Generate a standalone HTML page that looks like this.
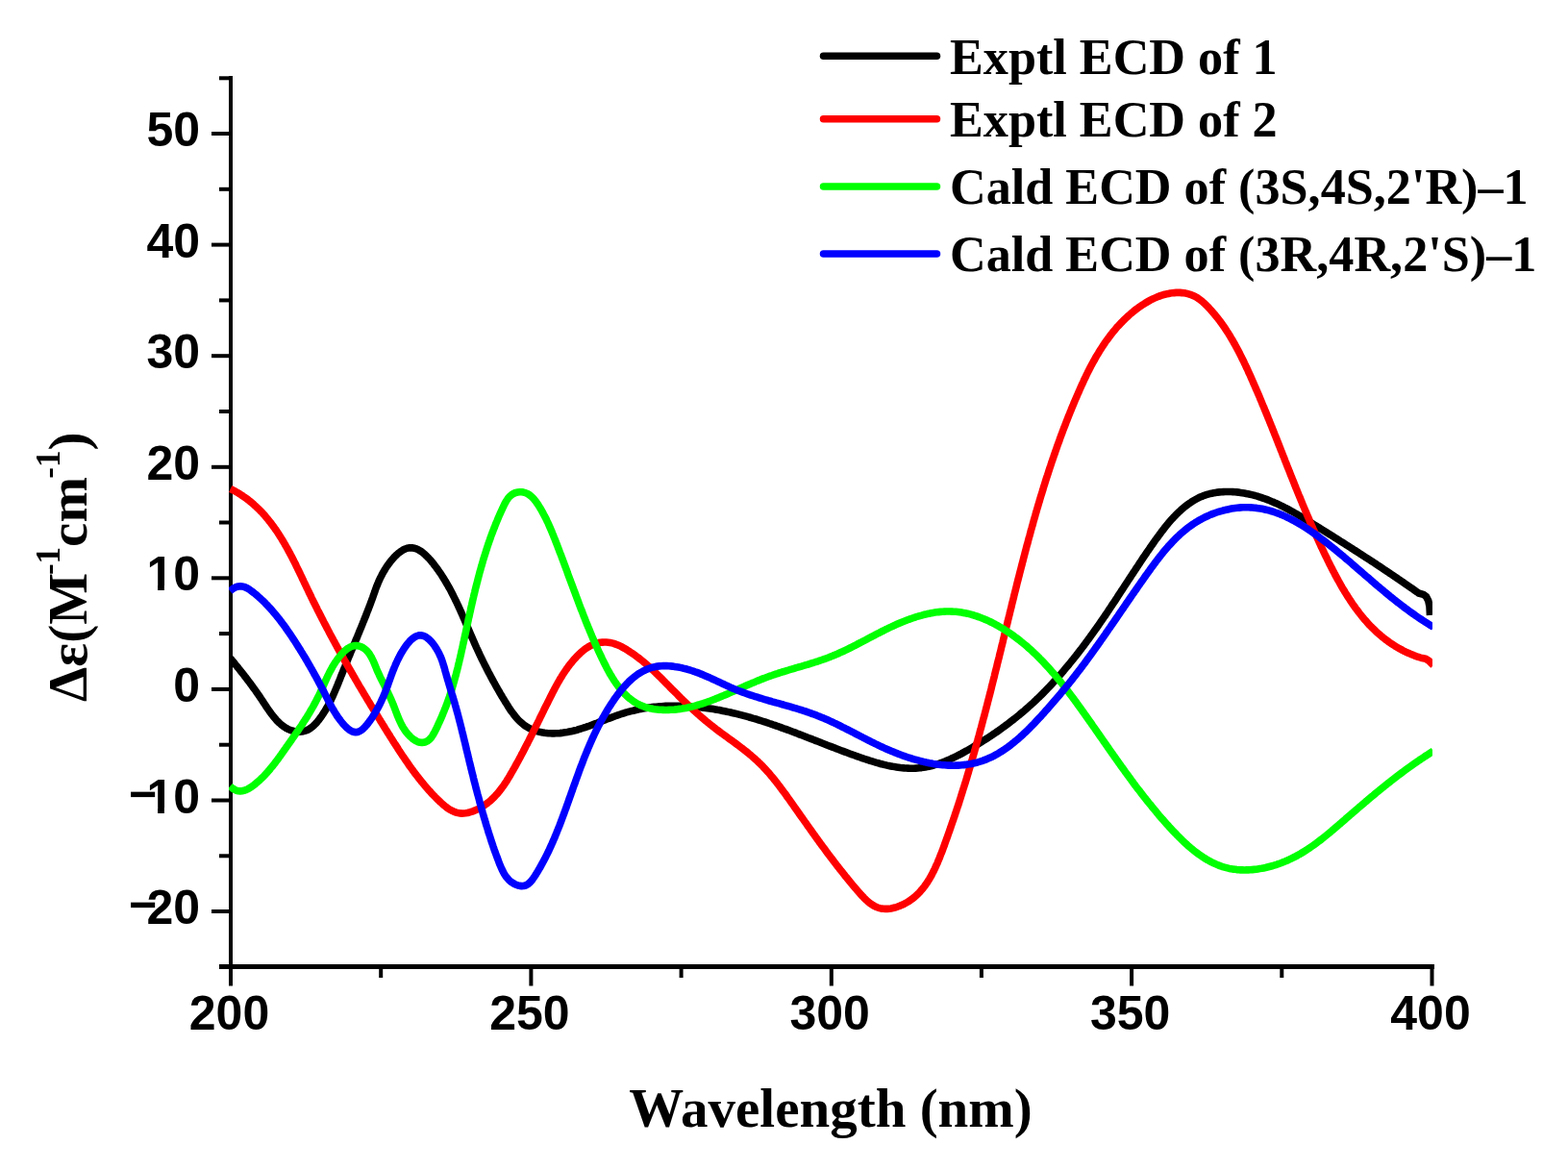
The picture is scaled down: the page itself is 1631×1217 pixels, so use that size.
<!DOCTYPE html>
<html><head><meta charset="utf-8"><title>ECD spectra</title>
<style>html,body{margin:0;padding:0;background:#fff;overflow:hidden}svg{display:block}</style>
</head><body>
<svg xmlns="http://www.w3.org/2000/svg" width="1631" height="1217" viewBox="0 0 1631 1217">
<defs><clipPath id="pc"><rect x="238" y="60" width="1252" height="950"/></clipPath></defs>
<defs><clipPath id="c0"><rect x="0" y="0" width="1631" height="840.07"/><rect x="164.05" y="0" width="6.86" height="1217"/><rect x="180.19" y="0" width="1631" height="1217"/><rect x="0" y="0" width="154.83" height="1217"/></clipPath><clipPath id="c1"><rect x="0" y="0" width="1631" height="608.93"/><rect x="164.05" y="0" width="6.86" height="1217"/><rect x="180.19" y="0" width="1631" height="1217"/><rect x="0" y="0" width="154.83" height="1217"/></clipPath></defs>
<rect x="238" y="79" width="4" height="929" fill="#000"/>
<rect x="228" y="1003" width="1264" height="5" fill="#000"/>
<rect x="228" y="1003.8" width="12" height="4" fill="#000"/>
<rect x="220" y="946.0" width="20" height="4" fill="#000"/>
<rect x="228" y="888.3" width="12" height="4" fill="#000"/>
<rect x="220" y="830.5" width="20" height="4" fill="#000"/>
<rect x="228" y="772.7" width="12" height="4" fill="#000"/>
<rect x="220" y="714.9" width="20" height="4" fill="#000"/>
<rect x="228" y="657.1" width="12" height="4" fill="#000"/>
<rect x="220" y="599.3" width="20" height="4" fill="#000"/>
<rect x="228" y="541.5" width="12" height="4" fill="#000"/>
<rect x="220" y="483.8" width="20" height="4" fill="#000"/>
<rect x="228" y="426.0" width="12" height="4" fill="#000"/>
<rect x="220" y="368.2" width="20" height="4" fill="#000"/>
<rect x="228" y="310.4" width="12" height="4" fill="#000"/>
<rect x="220" y="252.6" width="20" height="4" fill="#000"/>
<rect x="228" y="194.8" width="12" height="4" fill="#000"/>
<rect x="220" y="137.0" width="20" height="4" fill="#000"/>
<rect x="228" y="79.3" width="12" height="4" fill="#000"/>
<rect x="238.0" y="1005" width="4" height="20.5" fill="#000"/>
<rect x="394.2" y="1005" width="4" height="12" fill="#000"/>
<rect x="550.4" y="1005" width="4" height="20.5" fill="#000"/>
<rect x="706.6" y="1005" width="4" height="12" fill="#000"/>
<rect x="862.8" y="1005" width="4" height="20.5" fill="#000"/>
<rect x="1018.9" y="1005" width="4" height="12" fill="#000"/>
<rect x="1175.1" y="1005" width="4" height="20.5" fill="#000"/>
<rect x="1331.3" y="1005" width="4" height="12" fill="#000"/>
<rect x="1487.5" y="1005" width="4" height="20.5" fill="#000"/>
<g clip-path="url(#pc)" fill="none" stroke-width="7.6" stroke-linejoin="round">
<path d="M239.6 684.7L240.8 686.2 242.1 687.8 243.4 689.3 244.6 690.9 245.9 692.4 247.2 694.0 248.4 695.5 249.7 697.1 250.9 698.7 252.2 700.2 253.4 701.8 254.6 703.4 255.9 705.0 257.1 706.6 258.3 708.2 259.5 709.8 260.7 711.4 261.9 713.0 263.0 714.6 264.2 716.2 265.4 717.8 266.5 719.5 267.7 721.1 268.8 722.8 270.0 724.4 271.1 726.1 272.2 727.7 273.3 729.4 274.4 731.1 275.5 732.7 276.6 734.4 277.7 736.1 278.8 737.7 280.0 739.4 281.2 741.0 282.3 742.6 283.6 744.2 284.8 745.8 286.1 747.3 287.4 748.8 288.8 750.3 290.2 751.7 291.7 753.0 293.2 754.3 294.8 755.5 296.5 756.6 298.2 757.7 300.0 758.6 301.8 759.4 303.7 760.0 305.6 760.5 307.6 760.9 309.6 761.1 311.6 761.1 313.6 761.0 315.6 760.7 317.5 760.2 319.4 759.5 321.2 758.6 322.9 757.5 324.5 756.3 326.0 755.0 327.4 753.6 328.8 752.2 330.1 750.7 331.4 749.1 332.6 747.5 333.8 745.9 334.9 744.3 336.0 742.6 337.1 740.9 338.2 739.2 339.2 737.5 340.2 735.8 341.2 734.0 342.1 732.3 343.1 730.5 344.0 728.7 344.8 726.9 345.7 725.1 346.5 723.3 347.3 721.5 348.1 719.6 348.9 717.8 349.7 715.9 350.5 714.1 351.2 712.2 352.0 710.4 352.7 708.5 353.5 706.7 354.2 704.8 354.9 702.9 355.7 701.1 356.4 699.2 357.2 697.4 357.9 695.5 358.7 693.6 359.4 691.8 360.2 689.9 360.9 688.1 361.7 686.2 362.4 684.4 363.2 682.5 364.0 680.7 364.7 678.8 365.5 677.0 366.3 675.1 367.0 673.3 367.8 671.4 368.6 669.6 369.4 667.8 370.1 665.9 370.9 664.1 371.7 662.2 372.4 660.4 373.2 658.5 373.9 656.7 374.7 654.8 375.5 653.0 376.2 651.1 377.0 649.2 377.7 647.4 378.5 645.5 379.2 643.7 380.0 641.8 380.7 640.0 381.4 638.1 382.1 636.2 382.9 634.4 383.6 632.5 384.3 630.6 385.0 628.8 385.7 626.9 386.4 625.0 387.1 623.1 387.8 621.2 388.4 619.4 389.1 617.5 389.8 615.6 390.4 613.7 391.1 611.8 391.8 609.9 392.6 608.1 393.3 606.2 394.1 604.4 394.9 602.6 395.8 600.7 396.7 599.0 397.6 597.2 398.6 595.4 399.6 593.7 400.6 592.0 401.7 590.3 402.8 588.6 404.0 587.0 405.2 585.4 406.4 583.8 407.7 582.3 409.0 580.8 410.3 579.3 411.7 577.9 413.2 576.5 414.7 575.2 416.3 574.0 418.0 572.9 419.7 571.8 421.5 571.0 423.4 570.3 425.3 569.9 427.3 569.7 429.3 569.9 431.3 570.3 433.2 570.9 435.0 571.7 436.7 572.7 438.4 573.8 440.0 575.0 441.5 576.3 443.0 577.7 444.4 579.1 445.8 580.5 447.2 582.0 448.5 583.5 449.7 585.1 451.0 586.6 452.2 588.2 453.4 589.8 454.6 591.4 455.8 593.0 456.9 594.7 458.1 596.3 459.2 598.0 460.3 599.7 461.3 601.4 462.4 603.1 463.4 604.8 464.4 606.5 465.4 608.2 466.4 610.0 467.4 611.7 468.4 613.5 469.3 615.2 470.2 617.0 471.1 618.8 472.0 620.6 472.9 622.4 473.8 624.2 474.7 626.0 475.5 627.8 476.4 629.6 477.2 631.4 478.0 633.2 478.9 635.1 479.7 636.9 480.5 638.7 481.3 640.6 482.1 642.4 482.9 644.2 483.7 646.1 484.5 647.9 485.3 649.7 486.0 651.6 486.8 653.4 487.6 655.3 488.4 657.1 489.2 659.0 490.0 660.8 490.8 662.6 491.6 664.5 492.4 666.3 493.2 668.1 494.0 670.0 494.8 671.8 495.6 673.6 496.5 675.4 497.3 677.2 498.2 679.1 499.0 680.9 499.9 682.7 500.7 684.5 501.6 686.3 502.5 688.1 503.4 689.9 504.3 691.7 505.2 693.4 506.1 695.2 507.0 697.0 507.9 698.8 508.9 700.6 509.8 702.3 510.7 704.1 511.7 705.9 512.6 707.6 513.6 709.4 514.6 711.1 515.5 712.9 516.5 714.6 517.5 716.4 518.5 718.1 519.5 719.8 520.5 721.6 521.5 723.3 522.5 725.0 523.6 726.7 524.6 728.4 525.6 730.1 526.7 731.8 527.8 733.5 528.8 735.2 529.9 736.9 531.0 738.6 532.2 740.2 533.4 741.8 534.6 743.4 535.8 745.0 537.1 746.5 538.4 748.0 539.8 749.5 541.3 750.8 542.8 752.2 544.3 753.5 545.9 754.7 547.6 755.8 549.3 756.8 551.0 757.7 552.9 758.6 554.7 759.3 556.6 760.0 558.5 760.6 560.4 761.1 562.4 761.6 564.4 761.9 566.3 762.3 568.3 762.5 570.3 762.7 572.3 762.8 574.3 762.9 576.3 762.9 578.3 762.8 580.3 762.7 582.3 762.6 584.3 762.4 586.3 762.1 588.3 761.8 590.2 761.5 592.2 761.1 594.2 760.7 596.1 760.3 598.1 759.8 600.0 759.3 601.9 758.7 603.8 758.1 605.7 757.5 607.6 756.9 609.5 756.3 611.4 755.6 613.3 755.0 615.2 754.3 617.1 753.6 618.9 752.9 620.8 752.2 622.7 751.4 624.5 750.7 626.4 750.0 628.3 749.3 630.1 748.5 632.0 747.8 633.9 747.1 635.8 746.4 637.6 745.7 639.5 745.0 641.4 744.3 643.3 743.7 645.2 743.0 647.1 742.4 649.0 741.8 650.9 741.2 652.8 740.7 654.8 740.1 656.7 739.6 658.6 739.2 660.6 738.7 662.5 738.3 664.5 737.8 666.5 737.5 668.4 737.1 670.4 736.7 672.4 736.4 674.4 736.1 676.3 735.9 678.3 735.6 680.3 735.4 682.3 735.2 684.3 735.0 686.3 734.8 688.3 734.7 690.3 734.5 692.3 734.4 694.3 734.3 696.3 734.3 698.3 734.2 700.3 734.2 702.3 734.2 704.3 734.2 706.3 734.2 708.3 734.3 710.3 734.3 712.3 734.4 714.3 734.5 716.3 734.6 718.3 734.8 720.3 734.9 722.3 735.1 724.3 735.3 726.2 735.5 728.2 735.7 730.2 735.9 732.2 736.2 734.2 736.4 736.2 736.7 738.2 737.0 740.1 737.3 742.1 737.6 744.1 737.9 746.1 738.3 748.0 738.6 750.0 739.0 752.0 739.4 753.9 739.8 755.9 740.2 757.8 740.6 759.8 741.0 761.7 741.5 763.7 741.9 765.6 742.4 767.6 742.9 769.5 743.4 771.5 743.9 773.4 744.4 775.3 744.9 777.3 745.4 779.2 746.0 781.1 746.5 783.0 747.1 785.0 747.6 786.9 748.2 788.8 748.8 790.7 749.4 792.6 750.0 794.5 750.6 796.4 751.2 798.3 751.8 800.2 752.5 802.1 753.1 804.0 753.8 805.9 754.4 807.8 755.1 809.7 755.7 811.6 756.4 813.4 757.1 815.3 757.8 817.2 758.4 819.1 759.1 821.0 759.8 822.8 760.5 824.7 761.2 826.6 761.9 828.5 762.6 830.3 763.4 832.2 764.1 834.1 764.8 835.9 765.5 837.8 766.2 839.7 767.0 841.5 767.7 843.4 768.4 845.3 769.1 847.1 769.9 849.0 770.6 850.9 771.3 852.7 772.0 854.6 772.8 856.4 773.5 858.3 774.2 860.2 775.0 862.0 775.7 863.9 776.4 865.8 777.1 867.6 777.8 869.5 778.6 871.4 779.3 873.3 780.0 875.1 780.7 877.0 781.4 878.9 782.1 880.8 782.8 882.6 783.5 884.5 784.2 886.4 784.9 888.3 785.5 890.2 786.2 892.0 786.9 893.9 787.5 895.8 788.2 897.7 788.9 899.6 789.5 901.5 790.1 903.4 790.7 905.3 791.4 907.2 791.9 909.1 792.5 911.1 793.1 913.0 793.6 914.9 794.2 916.9 794.7 918.8 795.2 920.7 795.6 922.7 796.1 924.6 796.5 926.6 796.9 928.6 797.3 930.5 797.6 932.5 797.9 934.5 798.2 936.5 798.5 938.5 798.7 940.5 798.9 942.5 799.0 944.5 799.1 946.5 799.2 948.5 799.2 950.5 799.2 952.5 799.1 954.5 799.0 956.5 798.8 958.4 798.6 960.4 798.3 962.4 798.0 964.4 797.6 966.3 797.2 968.3 796.8 970.2 796.3 972.1 795.7 974.1 795.1 976.0 794.5 977.9 793.9 979.7 793.2 981.6 792.5 983.5 791.8 985.3 791.0 987.2 790.2 989.0 789.4 990.8 788.5 992.6 787.7 994.4 786.8 996.2 785.9 998.0 785.0 999.8 784.1 1001.5 783.1 1003.3 782.1 1005.0 781.2 1006.8 780.2 1008.5 779.2 1010.2 778.2 1011.9 777.2 1013.7 776.1 1015.4 775.1 1017.1 774.1 1018.8 773.0 1020.5 772.0 1022.2 770.9 1023.9 769.8 1025.6 768.7 1027.2 767.7 1028.9 766.6 1030.6 765.5 1032.3 764.3 1033.9 763.2 1035.6 762.1 1037.2 761.0 1038.9 759.8 1040.5 758.7 1042.1 757.5 1043.7 756.3 1045.4 755.1 1047.0 753.9 1048.6 752.8 1050.2 751.5 1051.7 750.3 1053.3 749.1 1054.9 747.9 1056.5 746.6 1058.0 745.4 1059.6 744.1 1061.1 742.8 1062.7 741.5 1064.2 740.3 1065.7 739.0 1067.2 737.6 1068.7 736.3 1070.2 735.0 1071.7 733.7 1073.2 732.3 1074.7 731.0 1076.1 729.6 1077.6 728.2 1079.0 726.8 1080.5 725.5 1081.9 724.1 1083.3 722.7 1084.8 721.2 1086.2 719.8 1087.6 718.4 1089.0 716.9 1090.3 715.5 1091.7 714.1 1093.1 712.6 1094.5 711.1 1095.8 709.7 1097.2 708.2 1098.5 706.7 1099.8 705.2 1101.2 703.7 1102.5 702.2 1103.8 700.7 1105.1 699.2 1106.4 697.7 1107.7 696.1 1109.0 694.6 1110.3 693.1 1111.6 691.5 1112.8 690.0 1114.1 688.4 1115.3 686.9 1116.6 685.3 1117.8 683.7 1119.1 682.2 1120.3 680.6 1121.6 679.0 1122.8 677.4 1124.0 675.8 1125.2 674.3 1126.4 672.7 1127.6 671.1 1128.8 669.5 1130.0 667.9 1131.2 666.2 1132.4 664.6 1133.6 663.0 1134.7 661.4 1135.9 659.8 1137.1 658.1 1138.2 656.5 1139.4 654.9 1140.6 653.2 1141.7 651.6 1142.9 650.0 1144.0 648.3 1145.1 646.7 1146.3 645.0 1147.4 643.4 1148.5 641.7 1149.7 640.1 1150.8 638.4 1151.9 636.8 1153.0 635.1 1154.1 633.4 1155.2 631.8 1156.3 630.1 1157.4 628.4 1158.6 626.8 1159.7 625.1 1160.8 623.4 1161.9 621.7 1162.9 620.1 1164.0 618.4 1165.1 616.7 1166.2 615.0 1167.3 613.4 1168.4 611.7 1169.5 610.0 1170.6 608.3 1171.7 606.7 1172.8 605.0 1173.9 603.3 1175.0 601.6 1176.1 600.0 1177.2 598.3 1178.3 596.6 1179.4 594.9 1180.5 593.3 1181.6 591.6 1182.7 589.9 1183.8 588.3 1184.9 586.6 1186.0 584.9 1187.1 583.3 1188.2 581.6 1189.3 579.9 1190.5 578.3 1191.6 576.6 1192.7 575.0 1193.8 573.3 1195.0 571.7 1196.1 570.0 1197.2 568.4 1198.4 566.7 1199.5 565.1 1200.7 563.5 1201.8 561.8 1203.0 560.2 1204.2 558.6 1205.4 557.0 1206.6 555.4 1207.8 553.7 1209.0 552.2 1210.2 550.6 1211.4 549.0 1212.7 547.4 1213.9 545.9 1215.2 544.3 1216.5 542.8 1217.8 541.3 1219.1 539.8 1220.5 538.3 1221.9 536.9 1223.3 535.4 1224.7 534.0 1226.1 532.6 1227.6 531.3 1229.1 529.9 1230.6 528.6 1232.1 527.3 1233.7 526.1 1235.3 524.9 1236.9 523.7 1238.6 522.6 1240.2 521.5 1241.9 520.5 1243.7 519.5 1245.5 518.5 1247.2 517.6 1249.1 516.8 1250.9 516.1 1252.8 515.3 1254.7 514.7 1256.6 514.1 1258.5 513.6 1260.5 513.2 1262.4 512.8 1264.4 512.4 1266.4 512.1 1268.4 511.9 1270.4 511.7 1272.4 511.6 1274.4 511.5 1276.4 511.5 1278.4 511.5 1280.4 511.5 1282.4 511.6 1284.4 511.8 1286.4 511.9 1288.4 512.1 1290.3 512.4 1292.3 512.7 1294.3 513.0 1296.3 513.4 1298.2 513.8 1300.2 514.2 1302.1 514.6 1304.1 515.1 1306.0 515.7 1307.9 516.2 1309.8 516.8 1311.7 517.4 1313.6 518.1 1315.5 518.7 1317.4 519.4 1319.3 520.1 1321.1 520.9 1323.0 521.7 1324.8 522.4 1326.6 523.3 1328.5 524.1 1330.3 524.9 1332.1 525.8 1333.9 526.7 1335.7 527.6 1337.4 528.5 1339.2 529.4 1341.0 530.4 1342.7 531.3 1344.5 532.3 1346.2 533.3 1348.0 534.3 1349.7 535.3 1351.4 536.3 1353.1 537.3 1354.9 538.4 1356.6 539.4 1358.3 540.4 1360.0 541.5 1361.7 542.5 1363.4 543.6 1365.1 544.6 1366.8 545.7 1368.5 546.7 1370.2 547.8 1371.9 548.8 1373.6 549.9 1375.3 551.0 1377.0 552.0 1378.7 553.1 1380.4 554.1 1382.1 555.2 1383.8 556.3 1385.5 557.3 1387.2 558.4 1388.9 559.5 1390.6 560.5 1392.3 561.6 1393.9 562.7 1395.6 563.7 1397.3 564.8 1399.0 565.9 1400.7 567.0 1402.4 568.0 1404.1 569.1 1405.8 570.2 1407.5 571.3 1409.1 572.4 1410.8 573.4 1412.5 574.5 1414.2 575.6 1415.9 576.7 1417.5 577.8 1419.2 578.9 1420.9 580.0 1422.6 581.0 1424.3 582.1 1425.9 583.2 1427.6 584.3 1429.3 585.4 1431.0 586.5 1432.6 587.6 1434.3 588.7 1436.0 589.8 1437.6 590.9 1439.3 592.1 1441.0 593.2 1442.6 594.3 1444.3 595.4 1445.9 596.5 1447.6 597.6 1449.3 598.7 1450.9 599.9 1452.6 601.0 1454.2 602.1 1455.9 603.2 1457.5 604.4 1459.2 605.5 1460.8 606.6 1462.5 607.8 1464.1 608.9 1465.8 610.1 1467.4 611.2 1469.1 612.3 1470.7 613.5 1472.3 614.6 1474.0 615.8 1475.6 617.0 1480.5 618.3 1483.5 620.5 1485.8 625.0 1487.0 631.0 1487.5 640.0" stroke="#000"/>
<path d="M239.7 508.5L241.5 509.4 243.3 510.3 245.0 511.3 246.8 512.3 248.5 513.3 250.2 514.4 251.9 515.5 253.5 516.6 255.2 517.7 256.8 518.9 258.4 520.1 259.9 521.4 261.5 522.6 263.0 523.9 264.5 525.3 266.0 526.6 267.4 528.0 268.9 529.4 270.3 530.8 271.7 532.2 273.1 533.7 274.4 535.1 275.7 536.6 277.0 538.2 278.3 539.7 279.6 541.3 280.8 542.8 282.0 544.4 283.2 546.0 284.4 547.6 285.6 549.2 286.7 550.9 287.9 552.5 289.0 554.2 290.1 555.9 291.1 557.6 292.2 559.3 293.3 561.0 294.3 562.7 295.3 564.4 296.3 566.1 297.3 567.9 298.3 569.6 299.3 571.4 300.2 573.1 301.2 574.9 302.1 576.6 303.0 578.4 304.0 580.2 304.9 582.0 305.8 583.8 306.7 585.5 307.6 587.3 308.4 589.1 309.3 590.9 310.2 592.7 311.1 594.5 311.9 596.3 312.8 598.1 313.7 599.9 314.5 601.7 315.4 603.5 316.2 605.3 317.1 607.2 318.0 609.0 318.8 610.8 319.7 612.6 320.6 614.4 321.4 616.2 322.3 618.0 323.2 619.8 324.0 621.6 324.9 623.4 325.8 625.2 326.7 627.0 327.6 628.8 328.5 630.6 329.4 632.3 330.2 634.1 331.1 635.9 332.1 637.7 333.0 639.5 333.9 641.3 334.8 643.1 335.7 644.8 336.6 646.6 337.5 648.4 338.5 650.2 339.4 651.9 340.3 653.7 341.3 655.5 342.2 657.2 343.1 659.0 344.1 660.8 345.0 662.5 346.0 664.3 346.9 666.1 347.9 667.8 348.8 669.6 349.8 671.3 350.7 673.1 351.7 674.8 352.7 676.6 353.6 678.3 354.6 680.1 355.6 681.8 356.6 683.6 357.5 685.3 358.5 687.1 359.5 688.8 360.5 690.5 361.5 692.3 362.5 694.0 363.5 695.8 364.5 697.5 365.5 699.2 366.5 701.0 367.5 702.7 368.5 704.4 369.5 706.2 370.5 707.9 371.5 709.6 372.5 711.3 373.5 713.1 374.5 714.8 375.6 716.5 376.6 718.2 377.6 719.9 378.6 721.7 379.7 723.4 380.7 725.1 381.7 726.8 382.7 728.5 383.8 730.2 384.8 731.9 385.8 733.7 386.9 735.4 387.9 737.1 389.0 738.8 390.0 740.5 391.1 742.2 392.1 743.9 393.2 745.6 394.2 747.3 395.3 749.0 396.3 750.7 397.4 752.4 398.4 754.1 399.5 755.8 400.5 757.5 401.6 759.2 402.6 760.9 403.7 762.6 404.8 764.3 405.8 766.0 406.9 767.7 408.0 769.4 409.0 771.1 410.1 772.8 411.2 774.4 412.3 776.1 413.4 777.8 414.4 779.5 415.5 781.2 416.6 782.8 417.7 784.5 418.8 786.2 420.0 787.8 421.1 789.5 422.2 791.1 423.4 792.8 424.5 794.4 425.6 796.1 426.8 797.7 428.0 799.3 429.1 800.9 430.3 802.5 431.5 804.1 432.7 805.7 434.0 807.3 435.2 808.9 436.4 810.5 437.7 812.0 438.9 813.6 440.2 815.1 441.5 816.7 442.8 818.2 444.1 819.7 445.4 821.2 446.7 822.7 448.1 824.2 449.4 825.7 450.8 827.1 452.2 828.5 453.6 830.0 455.0 831.4 456.5 832.8 457.9 834.2 459.4 835.5 460.9 836.8 462.4 838.1 464.0 839.4 465.6 840.6 467.3 841.7 469.0 842.7 470.7 843.6 472.6 844.4 474.5 845.1 476.4 845.6 478.4 845.9 480.4 846.1 482.4 846.0 484.4 845.8 486.3 845.5 488.3 845.0 490.2 844.4 492.1 843.8 493.9 843.0 495.8 842.2 497.6 841.3 499.3 840.4 501.1 839.4 502.8 838.4 504.4 837.2 506.0 836.1 507.6 834.9 509.2 833.6 510.7 832.3 512.2 830.9 513.6 829.5 515.0 828.1 516.3 826.6 517.7 825.1 518.9 823.6 520.2 822.0 521.4 820.4 522.6 818.8 523.8 817.2 524.9 815.5 526.0 813.9 527.1 812.2 528.1 810.5 529.2 808.8 530.2 807.1 531.2 805.3 532.2 803.6 533.2 801.9 534.2 800.1 535.2 798.4 536.2 796.6 537.1 794.9 538.1 793.1 539.1 791.4 540.0 789.6 541.0 787.9 541.9 786.1 542.8 784.3 543.8 782.6 544.7 780.8 545.6 779.0 546.5 777.2 547.4 775.4 548.4 773.7 549.3 771.9 550.2 770.1 551.1 768.3 552.0 766.5 552.9 764.7 553.8 762.9 554.6 761.2 555.5 759.4 556.4 757.6 557.3 755.8 558.2 754.0 559.1 752.2 560.0 750.4 560.9 748.6 561.7 746.8 562.6 745.0 563.5 743.2 564.4 741.4 565.3 739.6 566.1 737.8 567.0 736.0 567.9 734.2 568.8 732.5 569.7 730.7 570.6 728.9 571.5 727.1 572.4 725.3 573.3 723.5 574.2 721.7 575.1 719.9 576.0 718.2 577.0 716.4 577.9 714.6 578.9 712.9 579.8 711.1 580.8 709.4 581.8 707.7 582.8 705.9 583.9 704.2 584.9 702.5 586.0 700.8 587.1 699.2 588.2 697.5 589.4 695.9 590.5 694.2 591.7 692.6 592.9 691.0 594.2 689.5 595.5 687.9 596.7 686.4 598.1 684.9 599.4 683.4 600.8 682.0 602.2 680.6 603.7 679.2 605.2 677.9 606.7 676.6 608.3 675.3 609.9 674.2 611.6 673.1 613.3 672.1 615.1 671.2 616.9 670.4 618.8 669.7 620.7 669.1 622.7 668.6 624.6 668.3 626.6 668.1 628.6 668.0 630.6 668.0 632.6 668.2 634.6 668.5 636.5 668.9 638.5 669.4 640.4 670.1 642.2 670.8 644.1 671.6 645.9 672.4 647.7 673.4 649.4 674.3 651.1 675.3 652.8 676.4 654.5 677.5 656.2 678.6 657.9 679.7 659.5 680.8 661.1 682.0 662.7 683.2 664.3 684.4 665.9 685.6 667.5 686.9 669.0 688.1 670.5 689.4 672.1 690.7 673.6 692.1 675.1 693.4 676.5 694.7 678.0 696.1 679.5 697.4 680.9 698.8 682.4 700.2 683.8 701.6 685.2 703.0 686.7 704.4 688.1 705.8 689.5 707.2 690.9 708.6 692.3 710.1 693.7 711.5 695.1 712.9 696.5 714.3 697.9 715.8 699.3 717.2 700.8 718.6 702.2 720.0 703.6 721.4 705.0 722.8 706.4 724.3 707.8 725.7 709.3 727.1 710.7 728.5 712.1 729.8 713.6 731.2 715.0 732.6 716.5 734.0 717.9 735.4 719.4 736.7 720.9 738.1 722.3 739.4 723.8 740.8 725.3 742.1 726.8 743.5 728.3 744.8 729.8 746.1 731.3 747.4 732.8 748.7 734.4 750.0 735.9 751.3 737.5 752.5 739.0 753.8 740.6 755.0 742.2 756.3 743.8 757.5 745.3 758.7 746.9 759.9 748.5 761.1 750.1 762.3 751.8 763.5 753.4 764.7 755.0 765.8 756.6 767.0 758.2 768.2 759.8 769.4 761.5 770.5 763.1 771.7 764.7 772.9 766.3 774.1 767.9 775.3 769.5 776.5 771.1 777.7 772.7 778.9 774.3 780.2 775.8 781.4 777.4 782.6 778.9 783.9 780.5 785.2 782.0 786.5 783.5 787.8 785.0 789.1 786.5 790.5 788.0 791.8 789.4 793.2 790.9 794.6 792.3 796.0 793.7 797.4 795.0 798.9 796.4 800.4 797.7 801.8 799.1 803.3 800.4 804.8 801.7 806.4 803.0 807.9 804.2 809.4 805.5 811.0 806.8 812.6 808.0 814.1 809.2 815.7 810.4 817.3 811.6 818.9 812.8 820.5 814.0 822.1 815.2 823.7 816.4 825.3 817.6 826.9 818.7 828.6 819.9 830.2 821.1 831.8 822.2 833.5 823.4 835.1 824.5 836.7 825.7 838.4 826.8 840.0 828.0 841.6 829.1 843.3 830.3 844.9 831.4 846.5 832.6 848.2 833.7 849.8 834.9 851.4 836.1 853.1 837.2 854.7 838.4 856.3 839.5 858.0 840.7 859.6 841.8 861.2 843.0 862.9 844.2 864.5 845.3 866.1 846.5 867.8 847.7 869.4 848.8 871.0 850.0 872.6 851.2 874.2 852.3 875.9 853.5 877.5 854.7 879.1 855.9 880.7 857.1 882.3 858.3 883.9 859.4 885.5 860.6 887.1 861.8 888.7 863.0 890.3 864.2 891.9 865.5 893.5 866.7 895.1 867.9 896.7 869.1 898.3 870.3 899.9 871.6 901.5 872.8 903.0 874.0 904.6 875.3 906.2 876.5 907.7 877.8 909.3 879.0 910.9 880.3 912.4 881.5 914.0 882.8 915.5 884.1 917.1 885.3 918.6 886.6 920.2 887.9 921.7 889.2 923.2 890.5 924.7 891.8 926.3 893.1 927.8 894.4 929.3 895.7 930.8 897.1 932.2 898.5 933.7 899.9 935.1 901.4 936.5 902.9 937.8 904.4 939.1 906.0 940.3 907.7 941.4 909.4 942.4 911.2 943.3 913.0 944.0 914.9 944.6 916.9 945.1 918.9 945.3 920.9 945.4 922.9 945.4 924.9 945.2 926.8 944.9 928.8 944.5 930.8 944.1 932.7 943.5 934.6 942.8 936.4 942.1 938.3 941.3 940.1 940.5 941.8 939.5 943.6 938.5 945.3 937.5 946.9 936.4 948.6 935.2 950.1 934.0 951.7 932.7 953.2 931.4 954.6 930.0 956.0 928.6 957.4 927.1 958.7 925.6 960.0 924.0 961.2 922.5 962.4 920.9 963.5 919.2 964.7 917.6 965.7 915.9 966.8 914.2 967.8 912.4 968.8 910.7 969.7 908.9 970.6 907.1 971.5 905.4 972.4 903.6 973.2 901.7 974.0 899.9 974.9 898.1 975.6 896.2 976.4 894.4 977.2 892.5 977.9 890.7 978.6 888.8 979.4 887.0 980.1 885.1 980.8 883.2 981.5 881.3 982.2 879.5 982.8 877.6 983.5 875.7 984.2 873.8 984.9 871.9 985.6 870.1 986.2 868.2 986.9 866.3 987.6 864.4 988.2 862.5 988.9 860.6 989.5 858.7 990.2 856.8 990.8 854.9 991.5 853.1 992.1 851.2 992.8 849.3 993.4 847.4 994.0 845.5 994.7 843.6 995.3 841.7 995.9 839.8 996.6 837.9 997.2 836.0 997.8 834.1 998.4 832.2 999.0 830.3 999.6 828.4 1000.2 826.4 1000.8 824.5 1001.4 822.6 1002.0 820.7 1002.6 818.8 1003.2 816.9 1003.8 815.0 1004.4 813.1 1005.0 811.2 1005.6 809.2 1006.1 807.3 1006.7 805.4 1007.3 803.5 1007.8 801.6 1008.4 799.7 1009.0 797.7 1009.5 795.8 1010.1 793.9 1010.7 792.0 1011.2 790.1 1011.8 788.1 1012.3 786.2 1012.9 784.3 1013.4 782.4 1014.0 780.4 1014.5 778.5 1015.1 776.6 1015.6 774.7 1016.1 772.7 1016.7 770.8 1017.2 768.9 1017.7 767.0 1018.3 765.0 1018.8 763.1 1019.3 761.2 1019.8 759.2 1020.4 757.3 1020.9 755.4 1021.4 753.4 1021.9 751.5 1022.4 749.6 1022.9 747.6 1023.5 745.7 1024.0 743.8 1024.5 741.8 1025.0 739.9 1025.5 738.0 1026.0 736.0 1026.5 734.1 1027.0 732.2 1027.5 730.2 1028.0 728.3 1028.5 726.3 1029.0 724.4 1029.5 722.5 1030.0 720.5 1030.5 718.6 1031.0 716.6 1031.4 714.7 1031.9 712.8 1032.4 710.8 1032.9 708.9 1033.4 706.9 1033.9 705.0 1034.4 703.1 1034.8 701.1 1035.3 699.2 1035.8 697.2 1036.3 695.3 1036.8 693.4 1037.2 691.4 1037.7 689.5 1038.2 687.5 1038.7 685.6 1039.2 683.6 1039.6 681.7 1040.1 679.8 1040.6 677.8 1041.1 675.9 1041.5 673.9 1042.0 672.0 1042.5 670.0 1043.0 668.1 1043.4 666.2 1043.9 664.2 1044.4 662.3 1044.8 660.3 1045.3 658.4 1045.8 656.4 1046.3 654.5 1046.7 652.5 1047.2 650.6 1047.7 648.7 1048.2 646.7 1048.6 644.8 1049.1 642.8 1049.6 640.9 1050.1 638.9 1050.5 637.0 1051.0 635.1 1051.5 633.1 1052.0 631.2 1052.4 629.2 1052.9 627.3 1053.4 625.3 1053.9 623.4 1054.4 621.5 1054.8 619.5 1055.3 617.6 1055.8 615.6 1056.3 613.7 1056.8 611.7 1057.3 609.8 1057.7 607.9 1058.2 605.9 1058.7 604.0 1059.2 602.0 1059.7 600.1 1060.2 598.2 1060.7 596.2 1061.2 594.3 1061.7 592.4 1062.2 590.4 1062.7 588.5 1063.2 586.5 1063.7 584.6 1064.2 582.7 1064.7 580.7 1065.2 578.8 1065.7 576.9 1066.2 574.9 1066.7 573.0 1067.2 571.1 1067.7 569.1 1068.2 567.2 1068.8 565.3 1069.3 563.3 1069.8 561.4 1070.3 559.5 1070.9 557.5 1071.4 555.6 1071.9 553.7 1072.4 551.7 1073.0 549.8 1073.5 547.9 1074.1 546.0 1074.6 544.0 1075.1 542.1 1075.7 540.2 1076.2 538.3 1076.8 536.3 1077.3 534.4 1077.9 532.5 1078.4 530.6 1079.0 528.7 1079.6 526.7 1080.1 524.8 1080.7 522.9 1081.3 521.0 1081.8 519.1 1082.4 517.1 1083.0 515.2 1083.6 513.3 1084.2 511.4 1084.8 509.5 1085.3 507.6 1085.9 505.7 1086.5 503.8 1087.1 501.9 1087.7 499.9 1088.3 498.0 1088.9 496.1 1089.6 494.2 1090.2 492.3 1090.8 490.4 1091.4 488.5 1092.0 486.6 1092.7 484.7 1093.3 482.8 1093.9 480.9 1094.6 479.0 1095.2 477.1 1095.9 475.2 1096.5 473.3 1097.2 471.5 1097.8 469.6 1098.5 467.7 1099.2 465.8 1099.8 463.9 1100.5 462.0 1101.2 460.1 1101.9 458.3 1102.5 456.4 1103.2 454.5 1103.9 452.6 1104.6 450.8 1105.3 448.9 1106.0 447.0 1106.7 445.1 1107.5 443.3 1108.2 441.4 1108.9 439.5 1109.6 437.7 1110.4 435.8 1111.1 433.9 1111.8 432.1 1112.6 430.2 1113.3 428.4 1114.1 426.5 1114.8 424.7 1115.6 422.8 1116.4 421.0 1117.1 419.1 1117.9 417.3 1118.7 415.4 1119.5 413.6 1120.3 411.8 1121.1 409.9 1121.9 408.1 1122.7 406.3 1123.5 404.4 1124.3 402.6 1125.1 400.8 1126.0 399.0 1126.8 397.2 1127.6 395.3 1128.5 393.5 1129.4 391.7 1130.2 389.9 1131.1 388.1 1132.0 386.3 1132.9 384.6 1133.8 382.8 1134.7 381.0 1135.7 379.2 1136.6 377.5 1137.6 375.7 1138.6 374.0 1139.5 372.2 1140.5 370.5 1141.6 368.8 1142.6 367.1 1143.6 365.3 1144.7 363.7 1145.8 362.0 1146.9 360.3 1148.0 358.6 1149.1 357.0 1150.2 355.3 1151.4 353.7 1152.6 352.1 1153.8 350.5 1155.0 348.9 1156.2 347.3 1157.5 345.7 1158.7 344.2 1160.0 342.7 1161.3 341.1 1162.6 339.6 1164.0 338.2 1165.3 336.7 1166.7 335.3 1168.1 333.8 1169.6 332.4 1171.0 331.0 1172.5 329.7 1173.9 328.3 1175.4 327.0 1176.9 325.7 1178.5 324.4 1180.0 323.1 1181.6 321.9 1183.2 320.7 1184.8 319.5 1186.5 318.4 1188.1 317.2 1189.8 316.2 1191.5 315.1 1193.2 314.1 1194.9 313.1 1196.7 312.1 1198.5 311.2 1200.3 310.4 1202.1 309.6 1204.0 308.8 1205.8 308.1 1207.7 307.4 1209.6 306.8 1211.6 306.3 1213.5 305.8 1215.5 305.4 1217.4 305.0 1219.4 304.8 1221.4 304.6 1223.4 304.4 1225.4 304.4 1227.4 304.4 1229.4 304.6 1231.4 304.8 1233.4 305.1 1235.3 305.5 1237.2 306.1 1239.1 306.7 1241.0 307.5 1242.8 308.3 1244.6 309.3 1246.2 310.3 1247.9 311.5 1249.5 312.7 1251.0 314.0 1252.5 315.3 1254.0 316.7 1255.4 318.1 1256.8 319.5 1258.1 321.0 1259.5 322.5 1260.8 324.0 1262.1 325.5 1263.4 327.0 1264.7 328.6 1265.9 330.1 1267.2 331.7 1268.4 333.3 1269.6 334.9 1270.8 336.5 1271.9 338.1 1273.1 339.8 1274.2 341.4 1275.3 343.1 1276.4 344.8 1277.5 346.4 1278.5 348.1 1279.6 349.8 1280.6 351.6 1281.6 353.3 1282.6 355.0 1283.6 356.8 1284.6 358.5 1285.6 360.3 1286.5 362.0 1287.5 363.8 1288.4 365.5 1289.3 367.3 1290.2 369.1 1291.1 370.9 1292.0 372.7 1292.9 374.5 1293.8 376.3 1294.6 378.1 1295.5 379.9 1296.3 381.7 1297.2 383.5 1298.0 385.3 1298.8 387.2 1299.7 389.0 1300.5 390.8 1301.3 392.6 1302.1 394.5 1302.9 396.3 1303.7 398.1 1304.5 400.0 1305.3 401.8 1306.1 403.6 1306.9 405.5 1307.7 407.3 1308.5 409.1 1309.3 411.0 1310.1 412.8 1310.8 414.7 1311.6 416.5 1312.4 418.4 1313.1 420.2 1313.9 422.1 1314.7 423.9 1315.4 425.8 1316.2 427.6 1317.0 429.5 1317.7 431.3 1318.5 433.2 1319.2 435.0 1320.0 436.9 1320.7 438.7 1321.5 440.6 1322.2 442.4 1323.0 444.3 1323.7 446.1 1324.4 448.0 1325.2 449.9 1325.9 451.7 1326.7 453.6 1327.4 455.4 1328.1 457.3 1328.9 459.2 1329.6 461.0 1330.3 462.9 1331.1 464.7 1331.8 466.6 1332.5 468.5 1333.3 470.3 1334.0 472.2 1334.7 474.0 1335.5 475.9 1336.2 477.8 1336.9 479.6 1337.7 481.5 1338.4 483.4 1339.1 485.2 1339.9 487.1 1340.6 488.9 1341.4 490.8 1342.1 492.7 1342.8 494.5 1343.6 496.4 1344.3 498.2 1345.1 500.1 1345.8 501.9 1346.5 503.8 1347.3 505.7 1348.0 507.5 1348.8 509.4 1349.5 511.2 1350.3 513.1 1351.0 514.9 1351.8 516.8 1352.6 518.6 1353.3 520.5 1354.1 522.3 1354.8 524.2 1355.6 526.0 1356.4 527.9 1357.2 529.7 1357.9 531.6 1358.7 533.4 1359.5 535.3 1360.3 537.1 1361.1 538.9 1361.9 540.8 1362.6 542.6 1363.4 544.4 1364.2 546.3 1365.0 548.1 1365.8 549.9 1366.7 551.8 1367.5 553.6 1368.3 555.4 1369.1 557.2 1369.9 559.1 1370.8 560.9 1371.6 562.7 1372.4 564.5 1373.3 566.3 1374.1 568.2 1375.0 570.0 1375.8 571.8 1376.7 573.6 1377.5 575.4 1378.4 577.2 1379.3 579.0 1380.2 580.8 1381.0 582.6 1381.9 584.4 1382.8 586.2 1383.7 588.0 1384.6 589.7 1385.5 591.5 1386.4 593.3 1387.4 595.1 1388.3 596.9 1389.2 598.6 1390.2 600.4 1391.1 602.1 1392.1 603.9 1393.1 605.6 1394.0 607.4 1395.0 609.1 1396.0 610.9 1397.0 612.6 1398.1 614.3 1399.1 616.0 1400.2 617.7 1401.2 619.4 1402.3 621.1 1403.4 622.8 1404.5 624.5 1405.6 626.1 1406.7 627.8 1407.8 629.4 1409.0 631.0 1410.2 632.7 1411.4 634.3 1412.6 635.9 1413.8 637.5 1415.0 639.0 1416.3 640.6 1417.5 642.1 1418.8 643.7 1420.1 645.2 1421.5 646.7 1422.8 648.2 1424.1 649.7 1425.5 651.1 1426.9 652.5 1428.3 653.9 1429.8 655.3 1431.2 656.7 1432.7 658.1 1434.2 659.4 1435.7 660.7 1437.2 662.0 1438.8 663.3 1440.4 664.5 1441.9 665.7 1443.6 666.9 1445.2 668.1 1446.8 669.2 1448.5 670.3 1450.2 671.4 1451.9 672.5 1453.6 673.5 1455.3 674.5 1457.1 675.4 1458.8 676.4 1460.6 677.3 1462.4 678.2 1464.2 679.0 1466.1 679.8 1467.9 680.6 1469.8 681.3 1471.6 682.1 1473.5 682.8 1475.4 683.4 1477.3 684.0 1479.2 684.6 1483.0 685.3 1486.5 687.5 1491.0 692.0" stroke="#f00"/>
<path d="M239.3 817.8L240.8 819.1 242.4 820.4 244.1 821.4 245.9 822.2 247.9 822.7 249.9 822.9 251.8 822.7 253.8 822.3 255.7 821.7 257.5 820.9 259.3 819.9 261.0 818.8 262.6 817.7 264.2 816.5 265.8 815.2 267.3 813.9 268.8 812.6 270.3 811.3 271.7 809.9 273.2 808.5 274.6 807.1 276.0 805.6 277.3 804.2 278.6 802.7 280.0 801.2 281.2 799.6 282.5 798.1 283.8 796.5 285.0 795.0 286.2 793.4 287.4 791.8 288.6 790.2 289.8 788.6 291.0 786.9 292.2 785.3 293.3 783.7 294.5 782.0 295.6 780.4 296.8 778.8 297.9 777.1 299.1 775.5 300.2 773.9 301.4 772.2 302.5 770.6 303.7 769.0 304.8 767.3 306.0 765.7 307.1 764.0 308.2 762.4 309.4 760.7 310.5 759.1 311.6 757.4 312.7 755.8 313.9 754.1 315.0 752.4 316.0 750.7 317.1 749.1 318.2 747.4 319.3 745.7 320.3 744.0 321.4 742.3 322.4 740.5 323.4 738.8 324.4 737.1 325.4 735.4 326.4 733.6 327.3 731.9 328.3 730.1 329.2 728.3 330.1 726.5 331.0 724.7 331.9 723.0 332.8 721.1 333.6 719.3 334.4 717.5 335.2 715.7 336.1 713.9 336.9 712.0 337.7 710.2 338.5 708.4 339.3 706.6 340.2 704.7 341.0 702.9 341.9 701.1 342.8 699.3 343.7 697.6 344.7 695.8 345.6 694.1 346.7 692.3 347.7 690.6 348.8 688.9 349.9 687.3 351.1 685.6 352.3 684.0 353.5 682.5 354.8 680.9 356.1 679.5 357.5 678.0 359.0 676.7 360.5 675.4 362.2 674.2 363.9 673.2 365.7 672.4 367.6 671.8 369.6 671.5 371.6 671.6 373.5 672.0 375.4 672.6 377.2 673.5 378.9 674.6 380.5 675.9 381.9 677.3 383.2 678.8 384.4 680.4 385.4 682.1 386.4 683.8 387.3 685.6 388.2 687.4 389.0 689.3 389.8 691.1 390.5 693.0 391.3 694.8 392.0 696.7 392.8 698.5 393.7 700.3 394.5 702.1 395.3 703.9 396.2 705.7 397.1 707.5 398.0 709.3 398.9 711.1 399.8 712.9 400.7 714.7 401.6 716.5 402.5 718.3 403.4 720.1 404.2 721.9 405.1 723.7 405.9 725.5 406.7 727.3 407.5 729.2 408.3 731.0 409.0 732.9 409.8 734.7 410.5 736.6 411.2 738.5 411.9 740.4 412.6 742.2 413.3 744.1 414.1 745.9 414.8 747.8 415.7 749.6 416.5 751.4 417.4 753.2 418.3 755.0 419.3 756.7 420.4 758.4 421.5 760.1 422.7 761.7 424.0 763.2 425.3 764.7 426.7 766.2 428.2 767.5 429.7 768.8 431.4 769.9 433.1 770.9 434.9 771.7 436.9 772.2 438.9 772.4 440.8 772.2 442.8 771.7 444.5 770.8 446.2 769.6 447.6 768.2 448.9 766.7 450.0 765.0 451.0 763.3 452.0 761.6 452.9 759.8 453.8 758.0 454.7 756.2 455.5 754.4 456.3 752.5 457.2 750.7 458.0 748.9 458.8 747.1 459.6 745.2 460.4 743.4 461.1 741.5 461.9 739.7 462.6 737.8 463.4 736.0 464.1 734.1 464.8 732.2 465.5 730.3 466.2 728.5 466.8 726.6 467.5 724.7 468.1 722.8 468.7 720.9 469.3 719.0 469.9 717.1 470.5 715.1 471.1 713.2 471.6 711.3 472.2 709.4 472.7 707.5 473.2 705.5 473.8 703.6 474.3 701.7 474.8 699.7 475.3 697.8 475.8 695.8 476.3 693.9 476.7 692.0 477.2 690.0 477.7 688.1 478.1 686.1 478.6 684.2 479.0 682.2 479.5 680.3 479.9 678.3 480.3 676.4 480.8 674.4 481.2 672.5 481.6 670.5 482.1 668.5 482.5 666.6 482.9 664.6 483.3 662.7 483.7 660.7 484.2 658.8 484.6 656.8 485.0 654.9 485.4 652.9 485.8 650.9 486.3 649.0 486.7 647.0 487.1 645.1 487.5 643.1 488.0 641.2 488.4 639.2 488.8 637.3 489.3 635.3 489.7 633.3 490.1 631.4 490.6 629.4 491.0 627.5 491.5 625.5 491.9 623.6 492.4 621.6 492.8 619.7 493.3 617.8 493.8 615.8 494.2 613.9 494.7 611.9 495.2 610.0 495.7 608.0 496.2 606.1 496.7 604.2 497.2 602.2 497.7 600.3 498.2 598.4 498.7 596.4 499.2 594.5 499.8 592.6 500.3 590.6 500.9 588.7 501.4 586.8 502.0 584.9 502.5 582.9 503.1 581.0 503.7 579.1 504.3 577.2 504.9 575.3 505.5 573.4 506.1 571.5 506.7 569.6 507.3 567.7 508.0 565.8 508.6 563.9 509.3 562.0 510.0 560.1 510.6 558.2 511.3 556.3 512.0 554.5 512.7 552.6 513.4 550.7 514.2 548.9 514.9 547.0 515.6 545.1 516.4 543.3 517.2 541.4 517.9 539.6 518.7 537.8 519.5 535.9 520.3 534.1 521.1 532.3 522.0 530.4 522.8 528.6 523.7 526.8 524.5 525.0 525.4 523.2 526.4 521.5 527.5 519.8 528.6 518.2 529.9 516.6 531.4 515.3 533.0 514.1 534.8 513.1 536.6 512.4 538.6 512.0 540.6 511.8 542.6 511.8 544.5 512.1 546.5 512.6 548.3 513.4 550.1 514.4 551.7 515.6 553.2 516.9 554.6 518.3 555.9 519.8 557.2 521.4 558.3 523.0 559.5 524.6 560.5 526.3 561.6 528.0 562.6 529.7 563.6 531.5 564.6 533.2 565.5 535.0 566.5 536.8 567.4 538.5 568.3 540.3 569.1 542.1 570.0 543.9 570.8 545.8 571.6 547.6 572.4 549.4 573.2 551.3 574.0 553.1 574.7 555.0 575.5 556.8 576.2 558.7 577.0 560.5 577.7 562.4 578.4 564.3 579.2 566.1 579.9 568.0 580.6 569.9 581.3 571.7 582.0 573.6 582.7 575.5 583.5 577.3 584.2 579.2 584.9 581.1 585.6 583.0 586.3 584.8 587.0 586.7 587.7 588.6 588.4 590.5 589.1 592.3 589.8 594.2 590.4 596.1 591.1 598.0 591.8 599.8 592.5 601.7 593.2 603.6 593.9 605.5 594.6 607.4 595.3 609.2 596.0 611.1 596.7 613.0 597.4 614.9 598.1 616.7 598.8 618.6 599.5 620.5 600.2 622.4 600.9 624.2 601.6 626.1 602.3 628.0 603.0 629.8 603.7 631.7 604.4 633.6 605.2 635.4 605.9 637.3 606.6 639.2 607.3 641.0 608.1 642.9 608.8 644.8 609.5 646.6 610.3 648.5 611.0 650.3 611.8 652.2 612.6 654.0 613.3 655.9 614.1 657.7 614.9 659.6 615.6 661.4 616.4 663.3 617.2 665.1 618.0 666.9 618.8 668.8 619.6 670.6 620.4 672.4 621.3 674.2 622.1 676.1 622.9 677.9 623.8 679.7 624.6 681.5 625.5 683.3 626.3 685.1 627.2 686.9 628.1 688.7 629.0 690.5 629.9 692.3 630.8 694.1 631.7 695.9 632.7 697.6 633.7 699.4 634.6 701.1 635.7 702.8 636.7 704.5 637.8 706.2 638.8 707.9 640.0 709.6 641.1 711.2 642.3 712.8 643.5 714.4 644.7 716.0 646.0 717.6 647.3 719.1 648.6 720.6 650.0 722.0 651.4 723.4 652.9 724.8 654.4 726.1 656.0 727.3 657.6 728.5 659.2 729.7 660.9 730.8 662.6 731.8 664.4 732.7 666.2 733.6 668.1 734.3 669.9 735.0 671.8 735.7 673.8 736.2 675.7 736.7 677.7 737.1 679.6 737.5 681.6 737.8 683.6 738.0 685.6 738.2 687.6 738.3 689.6 738.4 691.6 738.5 693.6 738.5 695.6 738.4 697.6 738.3 699.6 738.2 701.6 738.1 703.6 737.9 705.5 737.6 707.5 737.4 709.5 737.1 711.5 736.7 713.4 736.4 715.4 736.0 717.4 735.5 719.3 735.1 721.2 734.6 723.2 734.1 725.1 733.5 727.0 733.0 728.9 732.4 730.9 731.8 732.8 731.2 734.6 730.5 736.5 729.9 738.4 729.2 740.3 728.5 742.2 727.8 744.0 727.1 745.9 726.3 747.7 725.6 749.6 724.8 751.4 724.0 753.3 723.3 755.1 722.5 757.0 721.7 758.8 720.9 760.6 720.1 762.5 719.3 764.3 718.5 766.1 717.7 768.0 716.9 769.8 716.0 771.6 715.2 773.4 714.4 775.3 713.6 777.1 712.8 778.9 712.0 780.8 711.2 782.6 710.4 784.5 709.7 786.3 708.9 788.2 708.1 790.0 707.4 791.9 706.6 793.7 705.9 795.6 705.2 797.5 704.5 799.4 703.8 801.2 703.1 803.1 702.5 805.0 701.8 806.9 701.2 808.8 700.6 810.7 699.9 812.6 699.3 814.5 698.7 816.5 698.2 818.4 697.6 820.3 697.0 822.2 696.4 824.1 695.9 826.0 695.3 828.0 694.7 829.9 694.2 831.8 693.6 833.7 693.1 835.6 692.5 837.6 691.9 839.5 691.4 841.4 690.8 843.3 690.2 845.2 689.6 847.1 689.0 849.0 688.4 850.9 687.8 852.8 687.1 854.7 686.5 856.6 685.8 858.5 685.2 860.4 684.5 862.3 683.8 864.1 683.0 866.0 682.3 867.8 681.5 869.7 680.7 871.5 680.0 873.3 679.1 875.2 678.3 877.0 677.5 878.8 676.6 880.6 675.8 882.4 674.9 884.2 674.0 886.0 673.1 887.8 672.2 889.5 671.3 891.3 670.4 893.1 669.4 894.9 668.5 896.6 667.6 898.4 666.7 900.2 665.7 901.9 664.8 903.7 663.8 905.5 662.9 907.3 662.0 909.0 661.1 910.8 660.1 912.6 659.2 914.4 658.3 916.1 657.4 917.9 656.5 919.7 655.6 921.5 654.7 923.3 653.8 925.1 652.9 926.9 652.1 928.7 651.3 930.5 650.4 932.4 649.6 934.2 648.8 936.0 648.0 937.9 647.2 939.7 646.5 941.6 645.8 943.5 645.0 945.4 644.3 947.2 643.7 949.1 643.0 951.0 642.4 952.9 641.7 954.8 641.2 956.8 640.6 958.7 640.1 960.6 639.5 962.6 639.1 964.5 638.6 966.5 638.2 968.4 637.8 970.4 637.4 972.4 637.1 974.4 636.8 976.3 636.6 978.3 636.4 980.3 636.2 982.3 636.1 984.3 636.0 986.3 636.0 988.3 636.0 990.3 636.1 992.3 636.2 994.3 636.3 996.3 636.5 998.3 636.8 1000.3 637.1 1002.2 637.4 1004.2 637.8 1006.2 638.2 1008.1 638.7 1010.0 639.2 1012.0 639.7 1013.9 640.3 1015.8 640.9 1017.7 641.6 1019.6 642.3 1021.4 643.0 1023.3 643.7 1025.1 644.5 1027.0 645.3 1028.8 646.1 1030.6 647.0 1032.4 647.9 1034.2 648.8 1035.9 649.8 1037.7 650.7 1039.4 651.7 1041.1 652.7 1042.9 653.7 1044.6 654.8 1046.2 655.9 1047.9 657.0 1049.6 658.1 1051.2 659.2 1052.9 660.4 1054.5 661.5 1056.1 662.7 1057.7 663.9 1059.3 665.1 1060.9 666.3 1062.4 667.6 1064.0 668.9 1065.5 670.1 1067.1 671.4 1068.6 672.7 1070.1 674.1 1071.6 675.4 1073.1 676.7 1074.5 678.1 1076.0 679.5 1077.4 680.8 1078.9 682.2 1080.3 683.6 1081.7 685.1 1083.1 686.5 1084.5 687.9 1085.9 689.4 1087.2 690.8 1088.6 692.3 1090.0 693.8 1091.3 695.3 1092.6 696.8 1093.9 698.3 1095.3 699.8 1096.6 701.3 1097.9 702.8 1099.1 704.4 1100.4 705.9 1101.7 707.4 1103.0 709.0 1104.2 710.5 1105.5 712.1 1106.7 713.7 1107.9 715.3 1109.2 716.8 1110.4 718.4 1111.6 720.0 1112.8 721.6 1114.0 723.2 1115.2 724.8 1116.4 726.4 1117.6 728.0 1118.8 729.6 1120.0 731.2 1121.1 732.9 1122.3 734.5 1123.5 736.1 1124.7 737.7 1125.8 739.4 1127.0 741.0 1128.1 742.6 1129.3 744.3 1130.4 745.9 1131.6 747.5 1132.8 749.2 1133.9 750.8 1135.1 752.4 1136.2 754.1 1137.3 755.7 1138.5 757.3 1139.6 759.0 1140.8 760.6 1141.9 762.3 1143.1 763.9 1144.2 765.6 1145.4 767.2 1146.5 768.8 1147.6 770.5 1148.8 772.1 1149.9 773.8 1151.1 775.4 1152.2 777.0 1153.4 778.7 1154.5 780.3 1155.7 782.0 1156.8 783.6 1158.0 785.2 1159.1 786.9 1160.3 788.5 1161.4 790.1 1162.6 791.8 1163.7 793.4 1164.9 795.0 1166.1 796.7 1167.2 798.3 1168.4 799.9 1169.6 801.5 1170.7 803.2 1171.9 804.8 1173.1 806.4 1174.3 808.0 1175.5 809.6 1176.6 811.2 1177.8 812.8 1179.0 814.5 1180.2 816.1 1181.4 817.7 1182.6 819.3 1183.8 820.8 1185.1 822.4 1186.3 824.0 1187.5 825.6 1188.7 827.2 1190.0 828.8 1191.2 830.3 1192.4 831.9 1193.7 833.5 1194.9 835.0 1196.2 836.6 1197.5 838.1 1198.7 839.7 1200.0 841.2 1201.3 842.8 1202.6 844.3 1203.8 845.8 1205.1 847.4 1206.4 848.9 1207.7 850.4 1209.0 851.9 1210.4 853.4 1211.7 854.9 1213.0 856.4 1214.3 857.9 1215.7 859.4 1217.0 860.9 1218.4 862.4 1219.7 863.8 1221.1 865.3 1222.5 866.7 1223.9 868.2 1225.3 869.6 1226.7 871.0 1228.1 872.4 1229.5 873.8 1231.0 875.2 1232.4 876.6 1233.9 877.9 1235.4 879.3 1236.9 880.6 1238.4 881.9 1240.0 883.2 1241.5 884.5 1243.1 885.7 1244.7 886.9 1246.3 888.1 1247.9 889.3 1249.6 890.4 1251.2 891.5 1252.9 892.6 1254.6 893.6 1256.3 894.7 1258.1 895.6 1259.9 896.6 1261.6 897.5 1263.5 898.3 1265.3 899.1 1267.1 899.9 1269.0 900.6 1270.9 901.3 1272.8 901.9 1274.7 902.4 1276.7 902.9 1278.6 903.4 1280.6 903.7 1282.5 904.1 1284.5 904.3 1286.5 904.6 1288.5 904.7 1290.5 904.9 1292.5 904.9 1294.5 905.0 1296.5 904.9 1298.5 904.9 1300.5 904.8 1302.5 904.6 1304.5 904.4 1306.5 904.2 1308.5 903.9 1310.4 903.6 1312.4 903.3 1314.4 902.9 1316.3 902.5 1318.3 902.0 1320.2 901.5 1322.2 901.0 1324.1 900.5 1326.0 899.9 1327.9 899.3 1329.8 898.6 1331.7 898.0 1333.5 897.3 1335.4 896.5 1337.3 895.8 1339.1 895.0 1340.9 894.1 1342.7 893.3 1344.5 892.4 1346.3 891.5 1348.1 890.6 1349.8 889.6 1351.6 888.7 1353.3 887.6 1355.0 886.6 1356.7 885.6 1358.4 884.5 1360.1 883.4 1361.8 882.3 1363.4 881.2 1365.1 880.0 1366.7 878.9 1368.3 877.7 1369.9 876.5 1371.5 875.3 1373.1 874.1 1374.7 872.9 1376.3 871.6 1377.8 870.4 1379.4 869.1 1380.9 867.9 1382.5 866.6 1384.0 865.3 1385.5 864.0 1387.1 862.7 1388.6 861.4 1390.1 860.1 1391.6 858.8 1393.1 857.5 1394.7 856.2 1396.2 854.9 1397.7 853.6 1399.2 852.3 1400.7 850.9 1402.2 849.6 1403.7 848.3 1405.2 847.0 1406.8 845.7 1408.3 844.4 1409.8 843.1 1411.3 841.8 1412.8 840.5 1414.3 839.2 1415.9 837.9 1417.4 836.6 1418.9 835.3 1420.4 834.0 1422.0 832.7 1423.5 831.4 1425.0 830.1 1426.6 828.8 1428.1 827.6 1429.6 826.3 1431.2 825.0 1432.7 823.7 1434.3 822.5 1435.8 821.2 1437.4 819.9 1438.9 818.7 1440.5 817.4 1442.0 816.2 1443.6 814.9 1445.2 813.7 1446.8 812.4 1448.3 811.2 1449.9 810.0 1451.5 808.8 1453.1 807.5 1454.7 806.3 1456.3 805.1 1457.9 803.9 1459.5 802.7 1461.1 801.5 1462.7 800.3 1464.3 799.2 1465.9 798.0 1467.6 796.8 1469.2 795.7 1470.8 794.5 1472.5 793.4 1474.1 792.2 1475.8 791.1 1477.4 790.0 1479.1 788.9 1480.7 787.8 1482.4 786.6 1484.1 785.6 1485.8 784.5 1487.4 783.4 1489.1 782.3 1490.8 781.3" stroke="#0f0"/>
<path d="M239.3 614.8L240.8 613.5 242.4 612.3 244.1 611.2 245.9 610.5 247.9 610.0 249.9 609.8 251.9 610.0 253.8 610.4 255.7 611.1 257.5 612.0 259.2 613.0 260.8 614.2 262.4 615.4 264.0 616.6 265.6 617.9 267.1 619.2 268.6 620.5 270.1 621.8 271.6 623.2 273.0 624.5 274.5 625.9 275.9 627.3 277.3 628.8 278.7 630.2 280.0 631.7 281.4 633.2 282.7 634.6 284.0 636.2 285.3 637.7 286.6 639.2 287.9 640.8 289.1 642.3 290.4 643.9 291.6 645.5 292.8 647.1 294.0 648.7 295.2 650.3 296.4 651.9 297.5 653.5 298.7 655.2 299.8 656.8 301.0 658.5 302.1 660.1 303.2 661.8 304.3 663.5 305.4 665.1 306.5 666.8 307.6 668.5 308.7 670.2 309.7 671.9 310.8 673.6 311.9 675.3 312.9 677.0 314.0 678.7 315.0 680.4 316.0 682.1 317.1 683.8 318.1 685.5 319.1 687.2 320.1 689.0 321.1 690.7 322.1 692.4 323.1 694.2 324.1 695.9 325.1 697.7 326.1 699.4 327.0 701.2 328.0 702.9 329.0 704.7 329.9 706.4 330.9 708.2 331.8 710.0 332.8 711.7 333.7 713.5 334.6 715.3 335.6 717.0 336.5 718.8 337.4 720.6 338.3 722.4 339.2 724.2 340.1 725.9 341.0 727.7 341.9 729.5 342.9 731.3 343.8 733.1 344.7 734.8 345.7 736.6 346.7 738.3 347.7 740.0 348.8 741.7 349.8 743.4 350.9 745.1 352.1 746.7 353.3 748.4 354.5 750.0 355.7 751.5 357.0 753.1 358.3 754.5 359.7 756.0 361.2 757.4 362.7 758.6 364.4 759.8 366.1 760.8 368.0 761.4 370.0 761.6 372.0 761.4 373.8 760.7 375.6 759.7 377.2 758.5 378.6 757.1 380.0 755.7 381.4 754.2 382.6 752.6 383.8 751.0 385.0 749.4 386.1 747.8 387.3 746.1 388.3 744.4 389.4 742.7 390.4 741.0 391.4 739.3 392.4 737.5 393.4 735.8 394.3 734.0 395.2 732.2 396.1 730.4 396.9 728.6 397.7 726.8 398.6 724.9 399.3 723.1 400.1 721.2 400.9 719.4 401.6 717.5 402.3 715.6 403.0 713.8 403.7 711.9 404.3 710.0 405.0 708.1 405.7 706.2 406.4 704.3 407.0 702.5 407.7 700.6 408.4 698.7 409.2 696.8 409.9 695.0 410.7 693.1 411.4 691.3 412.3 689.5 413.1 687.6 414.0 685.8 414.9 684.1 415.8 682.3 416.7 680.5 417.7 678.8 418.8 677.1 419.8 675.4 420.9 673.7 422.1 672.0 423.3 670.4 424.5 668.9 425.8 667.4 427.2 665.9 428.7 664.6 430.3 663.4 432.0 662.3 433.8 661.5 435.7 660.9 437.7 660.8 439.7 661.2 441.6 661.8 443.3 662.8 444.9 664.0 446.5 665.3 447.9 666.7 449.2 668.1 450.5 669.7 451.7 671.3 452.8 673.0 453.9 674.6 454.9 676.4 455.9 678.1 456.8 679.9 457.6 681.7 458.5 683.5 459.2 685.4 459.9 687.3 460.5 689.2 461.1 691.1 461.7 693.0 462.3 694.9 462.8 696.9 463.3 698.8 463.9 700.7 464.4 702.6 465.0 704.6 465.5 706.5 466.1 708.4 466.7 710.3 467.2 712.2 467.8 714.2 468.4 716.1 469.0 718.0 469.6 719.9 470.1 721.8 470.7 723.7 471.3 725.7 471.8 727.6 472.4 729.5 473.0 731.4 473.5 733.3 474.1 735.3 474.6 737.2 475.1 739.1 475.7 741.1 476.2 743.0 476.7 744.9 477.2 746.9 477.7 748.8 478.2 750.7 478.7 752.7 479.2 754.6 479.7 756.6 480.2 758.5 480.6 760.4 481.1 762.4 481.6 764.3 482.1 766.3 482.5 768.2 483.0 770.2 483.5 772.1 484.0 774.1 484.4 776.0 484.9 778.0 485.3 779.9 485.8 781.9 486.3 783.8 486.7 785.7 487.2 787.7 487.7 789.6 488.1 791.6 488.6 793.5 489.1 795.5 489.6 797.4 490.0 799.4 490.5 801.3 491.0 803.3 491.5 805.2 492.0 807.1 492.4 809.1 492.9 811.0 493.4 813.0 493.9 814.9 494.4 816.8 494.9 818.8 495.4 820.7 495.9 822.7 496.4 824.6 496.9 826.5 497.5 828.5 498.0 830.4 498.5 832.3 499.0 834.3 499.5 836.2 500.1 838.1 500.6 840.0 501.1 842.0 501.7 843.9 502.2 845.8 502.8 847.8 503.3 849.7 503.9 851.6 504.5 853.5 505.0 855.4 505.6 857.4 506.2 859.3 506.8 861.2 507.4 863.1 507.9 865.0 508.5 866.9 509.2 868.8 509.8 870.7 510.4 872.6 511.0 874.5 511.6 876.4 512.3 878.3 512.9 880.2 513.6 882.1 514.2 884.0 514.9 885.9 515.6 887.8 516.3 889.7 517.0 891.5 517.7 893.4 518.4 895.3 519.1 897.2 519.8 899.0 520.6 900.9 521.4 902.7 522.2 904.5 523.1 906.3 524.0 908.1 525.0 909.8 526.1 911.5 527.4 913.1 528.7 914.6 530.1 916.0 531.6 917.3 533.3 918.4 535.0 919.4 536.8 920.3 538.7 921.0 540.6 921.4 542.6 921.6 544.6 921.5 546.6 921.0 548.4 920.1 550.0 919.0 551.5 917.6 552.8 916.2 554.0 914.6 555.2 912.9 556.3 911.3 557.4 909.6 558.4 907.9 559.5 906.2 560.5 904.4 561.5 902.7 562.5 901.0 563.4 899.2 564.4 897.5 565.4 895.7 566.3 893.9 567.2 892.2 568.1 890.4 569.0 888.6 569.9 886.8 570.8 885.0 571.6 883.2 572.4 881.4 573.3 879.5 574.1 877.7 574.9 875.9 575.7 874.0 576.5 872.2 577.3 870.4 578.0 868.5 578.8 866.7 579.5 864.8 580.3 862.9 581.0 861.1 581.8 859.2 582.5 857.4 583.2 855.5 583.9 853.6 584.6 851.7 585.3 849.9 586.0 848.0 586.7 846.1 587.4 844.2 588.1 842.3 588.8 840.5 589.4 838.6 590.1 836.7 590.8 834.8 591.5 832.9 592.1 831.0 592.8 829.2 593.5 827.3 594.1 825.4 594.8 823.5 595.5 821.6 596.1 819.7 596.8 817.8 597.5 815.9 598.2 814.1 598.8 812.2 599.5 810.3 600.2 808.4 600.9 806.5 601.6 804.7 602.2 802.8 602.9 800.9 603.6 799.0 604.3 797.1 605.1 795.3 605.8 793.4 606.5 791.5 607.2 789.7 607.9 787.8 608.7 785.9 609.4 784.1 610.2 782.2 611.0 780.4 611.7 778.5 612.5 776.7 613.3 774.9 614.1 773.0 614.9 771.2 615.7 769.4 616.5 767.5 617.4 765.7 618.2 763.9 619.1 762.1 620.0 760.3 620.8 758.5 621.7 756.7 622.6 754.9 623.6 753.1 624.5 751.4 625.4 749.6 626.4 747.9 627.4 746.1 628.4 744.4 629.4 742.6 630.4 740.9 631.4 739.2 632.4 737.5 633.5 735.8 634.6 734.1 635.7 732.4 636.8 730.7 637.9 729.1 639.0 727.4 640.2 725.8 641.3 724.2 642.5 722.6 643.7 721.0 645.0 719.4 646.2 717.8 647.5 716.3 648.8 714.8 650.1 713.3 651.5 711.8 652.9 710.4 654.3 708.9 655.7 707.6 657.2 706.2 658.8 704.9 660.3 703.7 661.9 702.5 663.5 701.3 665.2 700.2 666.9 699.2 668.7 698.2 670.5 697.3 672.3 696.4 674.1 695.7 676.0 695.0 677.9 694.4 679.8 693.9 681.8 693.5 683.8 693.1 685.8 692.9 687.8 692.7 689.8 692.6 691.8 692.6 693.8 692.6 695.8 692.7 697.8 692.9 699.7 693.1 701.7 693.4 703.7 693.7 705.7 694.0 707.6 694.4 709.6 694.8 711.5 695.3 713.5 695.8 715.4 696.3 717.3 696.9 719.2 697.5 721.1 698.1 723.0 698.8 724.9 699.4 726.8 700.1 728.7 700.9 730.5 701.6 732.4 702.4 734.2 703.2 736.0 704.0 737.9 704.8 739.7 705.6 741.5 706.5 743.3 707.3 745.1 708.1 747.0 709.0 748.8 709.8 750.6 710.7 752.4 711.5 754.2 712.4 756.0 713.2 757.8 714.1 759.7 714.9 761.5 715.7 763.3 716.5 765.2 717.2 767.0 718.0 768.9 718.7 770.8 719.4 772.7 720.1 774.5 720.8 776.4 721.5 778.3 722.2 780.2 722.8 782.1 723.4 784.0 724.0 785.9 724.7 787.8 725.2 789.7 725.8 791.7 726.4 793.6 727.0 795.5 727.6 797.4 728.1 799.3 728.7 801.3 729.2 803.2 729.8 805.1 730.3 807.0 730.9 809.0 731.4 810.9 731.9 812.8 732.5 814.8 733.0 816.7 733.6 818.6 734.1 820.5 734.7 822.4 735.2 824.4 735.8 826.3 736.4 828.2 736.9 830.1 737.5 832.0 738.1 833.9 738.7 835.9 739.3 837.8 739.9 839.7 740.6 841.5 741.2 843.4 741.9 845.3 742.6 847.2 743.2 849.1 743.9 850.9 744.7 852.8 745.4 854.7 746.2 856.5 746.9 858.3 747.7 860.2 748.5 862.0 749.3 863.8 750.2 865.6 751.0 867.5 751.9 869.3 752.7 871.1 753.6 872.9 754.5 874.7 755.4 876.4 756.3 878.2 757.2 880.0 758.1 881.8 759.0 883.6 759.9 885.4 760.8 887.1 761.7 888.9 762.6 890.7 763.6 892.5 764.5 894.2 765.4 896.0 766.3 897.8 767.3 899.6 768.2 901.4 769.1 903.1 770.0 904.9 770.9 906.7 771.8 908.5 772.7 910.3 773.6 912.1 774.4 913.9 775.3 915.7 776.2 917.5 777.0 919.4 777.9 921.2 778.7 923.0 779.5 924.8 780.3 926.7 781.1 928.5 781.8 930.4 782.6 932.2 783.3 934.1 784.1 936.0 784.8 937.9 785.5 939.7 786.2 941.6 786.8 943.5 787.5 945.4 788.1 947.3 788.7 949.2 789.3 951.2 789.9 953.1 790.4 955.0 790.9 956.9 791.5 958.9 791.9 960.8 792.4 962.8 792.8 964.7 793.3 966.7 793.7 968.7 794.0 970.6 794.4 972.6 794.7 974.6 795.0 976.6 795.2 978.6 795.5 980.6 795.7 982.6 795.8 984.6 796.0 986.6 796.1 988.6 796.1 990.6 796.2 992.6 796.2 994.6 796.1 996.6 796.1 998.6 796.0 1000.6 795.8 1002.6 795.6 1004.5 795.4 1006.5 795.1 1008.5 794.8 1010.5 794.4 1012.4 794.0 1014.4 793.6 1016.3 793.1 1018.2 792.5 1020.2 791.9 1022.1 791.3 1023.9 790.6 1025.8 789.9 1027.7 789.1 1029.5 788.3 1031.3 787.5 1033.1 786.6 1034.9 785.6 1036.6 784.7 1038.3 783.7 1040.1 782.6 1041.8 781.6 1043.4 780.5 1045.1 779.4 1046.7 778.2 1048.4 777.1 1050.0 775.9 1051.6 774.7 1053.1 773.4 1054.7 772.2 1056.2 770.9 1057.8 769.6 1059.3 768.3 1060.8 767.0 1062.3 765.6 1063.8 764.3 1065.2 762.9 1066.7 761.6 1068.1 760.2 1069.6 758.8 1071.0 757.4 1072.4 755.9 1073.8 754.5 1075.2 753.1 1076.6 751.6 1077.9 750.2 1079.3 748.7 1080.7 747.2 1082.0 745.8 1083.4 744.3 1084.7 742.8 1086.1 741.3 1087.4 739.8 1088.7 738.3 1090.1 736.8 1091.4 735.3 1092.7 733.8 1094.0 732.3 1095.3 730.8 1096.6 729.3 1097.9 727.8 1099.2 726.2 1100.5 724.7 1101.8 723.2 1103.1 721.7 1104.4 720.1 1105.7 718.6 1106.9 717.0 1108.2 715.5 1109.5 713.9 1110.7 712.4 1112.0 710.8 1113.2 709.2 1114.5 707.7 1115.7 706.1 1116.9 704.5 1118.2 703.0 1119.4 701.4 1120.6 699.8 1121.8 698.2 1123.1 696.6 1124.3 695.0 1125.5 693.4 1126.7 691.8 1127.9 690.2 1129.1 688.6 1130.2 687.0 1131.4 685.4 1132.6 683.8 1133.8 682.1 1135.0 680.5 1136.1 678.9 1137.3 677.3 1138.5 675.6 1139.6 674.0 1140.8 672.4 1142.0 670.7 1143.1 669.1 1144.3 667.5 1145.4 665.8 1146.6 664.2 1147.7 662.6 1148.9 660.9 1150.0 659.3 1151.1 657.6 1152.3 656.0 1153.4 654.3 1154.6 652.7 1155.7 651.0 1156.8 649.4 1158.0 647.8 1159.1 646.1 1160.2 644.5 1161.4 642.8 1162.5 641.2 1163.6 639.5 1164.8 637.8 1165.9 636.2 1167.0 634.5 1168.2 632.9 1169.3 631.2 1170.4 629.6 1171.5 627.9 1172.7 626.3 1173.8 624.6 1174.9 623.0 1176.1 621.3 1177.2 619.7 1178.3 618.0 1179.5 616.4 1180.6 614.7 1181.8 613.1 1182.9 611.5 1184.0 609.8 1185.2 608.2 1186.3 606.5 1187.5 604.9 1188.6 603.3 1189.8 601.6 1190.9 600.0 1192.1 598.3 1193.3 596.7 1194.4 595.1 1195.6 593.5 1196.8 591.8 1197.9 590.2 1199.1 588.6 1200.3 587.0 1201.5 585.4 1202.7 583.8 1203.9 582.2 1205.1 580.6 1206.4 579.0 1207.6 577.5 1208.9 575.9 1210.1 574.3 1211.4 572.8 1212.7 571.3 1214.0 569.8 1215.3 568.2 1216.6 566.8 1218.0 565.3 1219.4 563.8 1220.8 562.4 1222.2 560.9 1223.6 559.5 1225.0 558.1 1226.5 556.8 1227.9 555.4 1229.4 554.1 1231.0 552.8 1232.5 551.5 1234.1 550.2 1235.6 549.0 1237.2 547.8 1238.9 546.6 1240.5 545.5 1242.2 544.4 1243.9 543.3 1245.6 542.3 1247.3 541.2 1249.0 540.3 1250.8 539.3 1252.6 538.4 1254.4 537.5 1256.2 536.7 1258.0 535.9 1259.9 535.1 1261.7 534.4 1263.6 533.7 1265.5 533.0 1267.4 532.4 1269.3 531.8 1271.2 531.3 1273.2 530.8 1275.1 530.3 1277.1 529.9 1279.0 529.5 1281.0 529.1 1283.0 528.8 1285.0 528.5 1287.0 528.3 1288.9 528.1 1290.9 527.9 1292.9 527.8 1294.9 527.8 1296.9 527.7 1298.9 527.8 1300.9 527.9 1302.9 528.0 1304.9 528.2 1306.9 528.4 1308.9 528.7 1310.9 529.0 1312.9 529.3 1314.8 529.7 1316.8 530.2 1318.7 530.7 1320.6 531.2 1322.6 531.7 1324.5 532.3 1326.4 533.0 1328.3 533.6 1330.1 534.3 1332.0 535.1 1333.9 535.8 1335.7 536.6 1337.5 537.4 1339.3 538.3 1341.1 539.2 1342.9 540.1 1344.7 541.0 1346.5 541.9 1348.2 542.9 1350.0 543.9 1351.7 544.9 1353.4 545.9 1355.1 547.0 1356.8 548.0 1358.5 549.1 1360.2 550.2 1361.8 551.3 1363.5 552.5 1365.1 553.6 1366.8 554.7 1368.4 555.9 1370.0 557.1 1371.6 558.3 1373.2 559.5 1374.8 560.7 1376.4 561.9 1378.0 563.1 1379.6 564.3 1381.2 565.6 1382.7 566.8 1384.3 568.1 1385.8 569.3 1387.4 570.6 1389.0 571.8 1390.5 573.1 1392.0 574.4 1393.6 575.7 1395.1 577.0 1396.7 578.2 1398.2 579.5 1399.7 580.8 1401.2 582.1 1402.8 583.4 1404.3 584.7 1405.8 586.0 1407.3 587.3 1408.8 588.6 1410.3 589.9 1411.9 591.3 1413.4 592.6 1414.9 593.9 1416.4 595.2 1417.9 596.5 1419.4 597.8 1420.9 599.1 1422.5 600.4 1424.0 601.7 1425.5 603.0 1427.0 604.4 1428.5 605.7 1430.0 607.0 1431.6 608.3 1433.1 609.6 1434.6 610.8 1436.1 612.1 1437.7 613.4 1439.2 614.7 1440.7 616.0 1442.3 617.3 1443.8 618.5 1445.4 619.8 1446.9 621.1 1448.5 622.3 1450.1 623.6 1451.6 624.8 1453.2 626.1 1454.8 627.3 1456.4 628.5 1458.0 629.7 1459.5 630.9 1461.1 632.1 1462.8 633.3 1464.4 634.5 1466.0 635.7 1467.6 636.9 1469.2 638.0 1470.9 639.2 1472.5 640.3 1474.2 641.5 1475.8 642.6 1477.5 643.7 1479.2 644.8 1480.8 645.9 1482.5 647.0 1484.2 648.0 1485.9 649.1 1487.6 650.2 1489.3 651.2 1491.0 652.2" stroke="#00f"/>
</g>
<text x="208" y="961.0" font-family="Liberation Sans, Arial, sans-serif" font-weight="bold" font-size="50" text-anchor="end">20</text>
<text x="134" y="958.3" font-family="Liberation Sans, Arial, sans-serif" font-weight="bold" font-size="50">&#8722;</text>
<text x="208" y="845.5" font-family="Liberation Sans, Arial, sans-serif" font-weight="bold" font-size="50" text-anchor="end" clip-path="url(#c0)">10</text>
<text x="134" y="842.8" font-family="Liberation Sans, Arial, sans-serif" font-weight="bold" font-size="50">&#8722;</text>
<text x="208" y="729.9" font-family="Liberation Sans, Arial, sans-serif" font-weight="bold" font-size="50" text-anchor="end">0</text>
<text x="208" y="614.3" font-family="Liberation Sans, Arial, sans-serif" font-weight="bold" font-size="50" text-anchor="end" clip-path="url(#c1)">10</text>
<text x="208" y="498.8" font-family="Liberation Sans, Arial, sans-serif" font-weight="bold" font-size="50" text-anchor="end">20</text>
<text x="208" y="383.2" font-family="Liberation Sans, Arial, sans-serif" font-weight="bold" font-size="50" text-anchor="end">30</text>
<text x="208" y="267.6" font-family="Liberation Sans, Arial, sans-serif" font-weight="bold" font-size="50" text-anchor="end">40</text>
<text x="208" y="152.0" font-family="Liberation Sans, Arial, sans-serif" font-weight="bold" font-size="50" text-anchor="end">50</text>
<text x="238.5" y="1070.6" font-family="Liberation Sans, Arial, sans-serif" font-weight="bold" font-size="50" text-anchor="middle">200</text>
<text x="550.9" y="1070.6" font-family="Liberation Sans, Arial, sans-serif" font-weight="bold" font-size="50" text-anchor="middle">250</text>
<text x="863.2" y="1070.6" font-family="Liberation Sans, Arial, sans-serif" font-weight="bold" font-size="50" text-anchor="middle">300</text>
<text x="1175.6" y="1070.6" font-family="Liberation Sans, Arial, sans-serif" font-weight="bold" font-size="50" text-anchor="middle">350</text>
<text x="1488.0" y="1070.6" font-family="Liberation Sans, Arial, sans-serif" font-weight="bold" font-size="50" text-anchor="middle">400</text>
<text x="864" y="1171.5" font-family="Liberation Serif, Times New Roman, serif" font-weight="bold" font-size="57" text-anchor="middle">Wavelength (nm)</text>
<g transform="translate(89.5,730) rotate(-90)"><text x="0" y="0" font-family="Liberation Serif, Times New Roman, serif" font-weight="bold" font-size="57"><tspan font-size="58">&#916;&#949;</tspan>(M<tspan font-size="35" dx="-2" dy="-28">-1</tspan><tspan dy="28">cm</tspan><tspan font-size="35" dx="-1.5" dy="-28">-1</tspan><tspan dy="28">)</tspan></text></g>
<line x1="856.5" y1="58.3" x2="974.5" y2="58.3" stroke="#000" stroke-width="7.5" stroke-linecap="round"/>
<text x="988" y="77.0" font-family="Liberation Serif, Times New Roman, serif" font-weight="bold" font-size="52.2">Exptl ECD of 1</text>
<line x1="856.5" y1="123.8" x2="974.5" y2="123.8" stroke="#f00" stroke-width="7.5" stroke-linecap="round"/>
<text x="988" y="142.0" font-family="Liberation Serif, Times New Roman, serif" font-weight="bold" font-size="52.2">Exptl ECD of 2</text>
<line x1="856.5" y1="193.9" x2="974.5" y2="193.9" stroke="#0f0" stroke-width="7.5" stroke-linecap="round"/>
<text x="988" y="212.0" font-family="Liberation Serif, Times New Roman, serif" font-weight="bold" font-size="52.2">Cald ECD of (3S,4S,2'R)&#8211;1</text>
<line x1="856.5" y1="264.0" x2="974.5" y2="264.0" stroke="#00f" stroke-width="7.5" stroke-linecap="round"/>
<text x="988" y="282.0" font-family="Liberation Serif, Times New Roman, serif" font-weight="bold" font-size="52.2">Cald ECD of (3R,4R,2'S)&#8211;1</text>
</svg>
</body></html>
